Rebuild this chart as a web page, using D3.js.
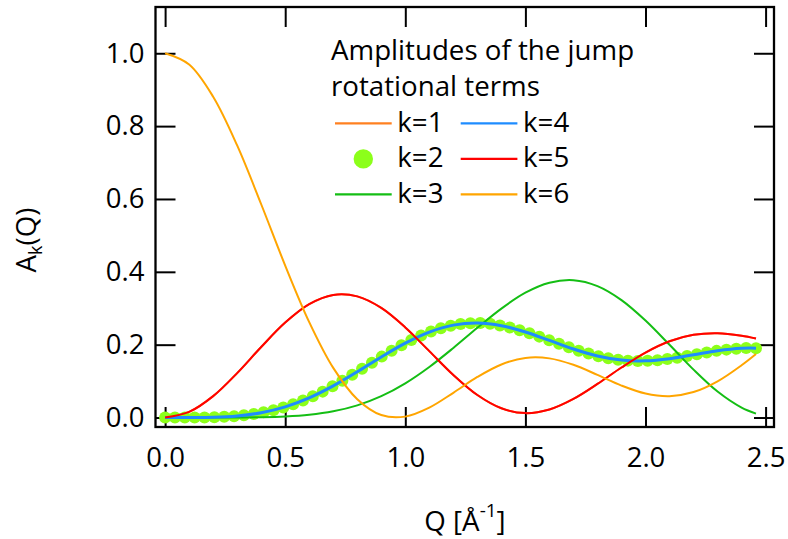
<!DOCTYPE html>
<html>
<head>
<meta charset="utf-8">
<script src="https://cdn.jsdelivr.net/npm/d3@7"></script>
<style>
  body { margin: 0; background: #fff; }
  svg text { font-family: "Open Sans", sans-serif; fill: #000; }
</style>
</head>
<body>
<svg id="chart" width="788" height="539"></svg>
<script>
// Momentum transfer grid for the smooth curves (Å^-1)
const qLine = [0, 0.1, 0.2, 0.3, 0.4, 0.5, 0.6, 0.7, 0.8, 0.9, 1.0, 1.1, 1.2,
               1.3, 1.4, 1.5, 1.6, 1.7, 1.8, 1.9, 2.0, 2.1, 2.2, 2.3, 2.4, 2.46];

// Momentum transfer grid of the k=2 markers
const qDots = [0, 0.041, 0.082, 0.123, 0.164, 0.205, 0.246, 0.287, 0.328, 0.369,
               0.41, 0.451, 0.492, 0.533, 0.574, 0.615, 0.656, 0.697, 0.738, 0.779,
               0.82, 0.861, 0.902, 0.943, 0.984, 1.025, 1.066, 1.107, 1.148, 1.189,
               1.23, 1.271, 1.312, 1.353, 1.394, 1.435, 1.476, 1.517, 1.558, 1.599,
               1.64, 1.681, 1.722, 1.763, 1.804, 1.845, 1.886, 1.927, 1.968, 2.009,
               2.05, 2.091, 2.132, 2.173, 2.214, 2.255, 2.296, 2.337, 2.378, 2.419, 2.46];

// Amplitudes A_k(Q)
const ampK1 = [0.0000, 0.0154, 0.0587, 0.1220, 0.1937, 0.2607, 0.3113, 0.3365, 0.3326,
               0.3009, 0.2474, 0.1823, 0.1168, 0.0618, 0.0254, 0.0121, 0.0221, 0.0511,
               0.0922, 0.1373, 0.1783, 0.2093, 0.2270, 0.2313, 0.2245, 0.2168];
const ampK2 = [0.0000, 0.0000, 0.0000, 0.0001, 0.0004, 0.0010, 0.0021, 0.0038, 0.0063,
               0.0098, 0.0144, 0.0203, 0.0277, 0.0363, 0.0465, 0.0583, 0.0711, 0.0857,
               0.1008, 0.1173, 0.1336, 0.1502, 0.1672, 0.1831, 0.1985, 0.2127, 0.2253,
               0.2364, 0.2453, 0.2522, 0.2568, 0.2591, 0.2592, 0.2572, 0.2529, 0.2472,
               0.2399, 0.2313, 0.2221, 0.2120, 0.2024, 0.1927, 0.1835, 0.1755, 0.1683,
               0.1629, 0.1588, 0.1562, 0.1553, 0.1558, 0.1575, 0.1606, 0.1644, 0.1689,
               0.1738, 0.1783, 0.1830, 0.1864, 0.1890, 0.1907, 0.1905];
const ampK3 = [0.0000, 0.0000, 0.0000, 0.0002, 0.0008, 0.0028, 0.0075, 0.0170, 0.0334,
               0.0586, 0.0939, 0.1388, 0.1910, 0.2464, 0.2991, 0.3426, 0.3699, 0.3769,
               0.3608, 0.3224, 0.2663, 0.1996, 0.1315, 0.0713, 0.0272, 0.0108];
const ampK4 = [0.0000, 0.0001, 0.0009, 0.0045, 0.0132, 0.0293, 0.0540, 0.0868, 0.1256,
               0.1664, 0.2044, 0.2347, 0.2537, 0.2594, 0.2522, 0.2348, 0.2117, 0.1881,
               0.1689, 0.1577, 0.1556, 0.1615, 0.1723, 0.1834, 0.1901, 0.1905];
const ampK5 = [0.0000, 0.0154, 0.0587, 0.1220, 0.1937, 0.2607, 0.3113, 0.3365, 0.3326,
               0.3009, 0.2474, 0.1823, 0.1168, 0.0618, 0.0254, 0.0121, 0.0221, 0.0511,
               0.0922, 0.1373, 0.1783, 0.2093, 0.2270, 0.2313, 0.2245, 0.2168];
const ampK6 = [1.0000, 0.9691, 0.8807, 0.7469, 0.5855, 0.4172, 0.2620, 0.1363, 0.0503,
               0.0068, 0.0025, 0.0272, 0.0679, 0.1113, 0.1457, 0.1636, 0.1624, 0.1447,
               0.1170, 0.0877, 0.0659, 0.0587, 0.0699, 0.0994, 0.1436, 0.1745];

const xTicks = [0, 0.5, 1.0, 1.5, 2.0, 2.5];
const yTicks = [0, 0.2, 0.4, 0.6, 0.8, 1.0];
const legendTitle = ["Amplitudes of the jump", "rotational terms"];

const series = [
  { label: "k=1", q: qLine, v: ampK1, color: "#FF8020", kind: "line", width: 2 },
  { label: "k=2", q: qDots, v: ampK2, color: "#8CFF1A", kind: "dots" },
  { label: "k=3", q: qLine, v: ampK3, color: "#14BE14", kind: "line", width: 2 },
  { label: "k=4", q: qLine, v: ampK4, color: "#1E8CFF", kind: "line", width: 3 },
  { label: "k=5", q: qLine, v: ampK5, color: "#FF0000", kind: "line", width: 2 },
  { label: "k=6", q: qLine, v: ampK6, color: "#FFA500", kind: "line", width: 2 }
];

const svg = d3.select("#chart");
const plot = { left: 155.5, right: 774, top: 7, bottom: 427 };

const x = d3.scaleLinear().domain([-0.04, 2.535]).range([plot.left, plot.right]);
const y = d3.scaleLinear().domain([-0.026, 1.127]).range([plot.bottom, plot.top]);

const fmt = d3.format(".1f");
const tickLen = 20;
const tickFont = 27.5;
const textFont = 27.7;

// Axes: mirrored ticks pointing inward on all four sides
const gBottom = svg.append("g").attr("transform", `translate(0,${plot.bottom})`)
  .call(d3.axisBottom(x).tickValues(xTicks).tickFormat(fmt)
        .tickSizeInner(-tickLen).tickSizeOuter(0).tickPadding(20));
const gLeft = svg.append("g").attr("transform", `translate(${plot.left},0)`)
  .call(d3.axisLeft(y).tickValues(yTicks).tickFormat(fmt)
        .tickSizeInner(-tickLen).tickSizeOuter(0).tickPadding(11));
const gTop = svg.append("g").attr("transform", `translate(0,${plot.top})`)
  .call(d3.axisTop(x).tickValues(xTicks).tickFormat("")
        .tickSizeInner(-tickLen).tickSizeOuter(0));
const gRight = svg.append("g").attr("transform", `translate(${plot.right},0)`)
  .call(d3.axisRight(y).tickValues(yTicks).tickFormat("")
        .tickSizeInner(-tickLen).tickSizeOuter(0));

[gBottom, gLeft, gTop, gRight].forEach(g => {
  g.select(".domain").remove();
  g.selectAll(".tick line").attr("stroke", "#000").attr("stroke-width", 2);
  g.selectAll(".tick text").attr("font-size", tickFont)
    .attr("font-family", '"Open Sans", sans-serif').attr("fill", "#000");
});

// Plot frame
svg.append("rect")
  .attr("x", plot.left).attr("y", plot.top)
  .attr("width", plot.right - plot.left).attr("height", plot.bottom - plot.top)
  .attr("fill", "none").attr("stroke", "#000").attr("stroke-width", 2.3);

// Data traces
const lineGen = d3.line()
  .x(d => x(d[0])).y(d => y(d[1]))
  .curve(d3.curveCatmullRom.alpha(0.5));

series.forEach(s => {
  const pts = s.q.map((q, i) => [q, s.v[i]]);
  if (s.kind === "dots") {
    svg.append("g").selectAll("circle").data(pts).join("circle")
      .attr("cx", d => x(d[0])).attr("cy", d => y(d[1]))
      .attr("r", 6).attr("fill", s.color);
  } else {
    svg.append("path").datum(pts)
      .attr("d", lineGen).attr("fill", "none")
      .attr("stroke", s.color).attr("stroke-width", s.width)
      .attr("stroke-linejoin", "round");
  }
});

// Axis titles
svg.append("text")
  .attr("x", 465).attr("y", 531).attr("text-anchor", "middle")
  .attr("font-size", textFont)
  .call(t => {
    t.append("tspan").text("Q [Å");
    t.append("tspan").attr("dy", -14).attr("font-size", 19).text("-1");
    t.append("tspan").attr("dy", 14).text("]");
  });

svg.append("text")
  .attr("transform", "translate(36,240) rotate(-90)")
  .attr("text-anchor", "middle")
  .attr("font-size", textFont)
  .call(t => {
    t.append("tspan").text("A");
    t.append("tspan").attr("dy", 6).attr("font-size", 18).text("k");
    t.append("tspan").attr("dy", -6).text("(Q)");
  });

// Legend
const legend = svg.append("g");
legendTitle.forEach((line, i) => {
  legend.append("text").attr("x", 331).attr("y", 60 + i * 36)
    .attr("font-size", textFont).text(line);
});
const rowY = [131.7, 167.3, 202.7];
const colX = [335, 460.7];
series.forEach((s, i) => {
  const col = Math.floor(i / 3), row = i % 3;
  const x0 = colX[col], yb = rowY[row], ym = yb - 8.4;
  if (s.kind === "dots") {
    legend.append("circle").attr("cx", x0 + 28.3).attr("cy", ym).attr("r", 9.7)
      .attr("fill", s.color);
  } else {
    legend.append("line").attr("x1", x0).attr("x2", x0 + 56.7)
      .attr("y1", ym).attr("y2", ym)
      .attr("stroke", s.color).attr("stroke-width", 2.3);
  }
  legend.append("text").attr("x", x0 + 62.3).attr("y", yb)
    .attr("font-size", textFont).text(s.label);
});
</script>
</body>
</html>
